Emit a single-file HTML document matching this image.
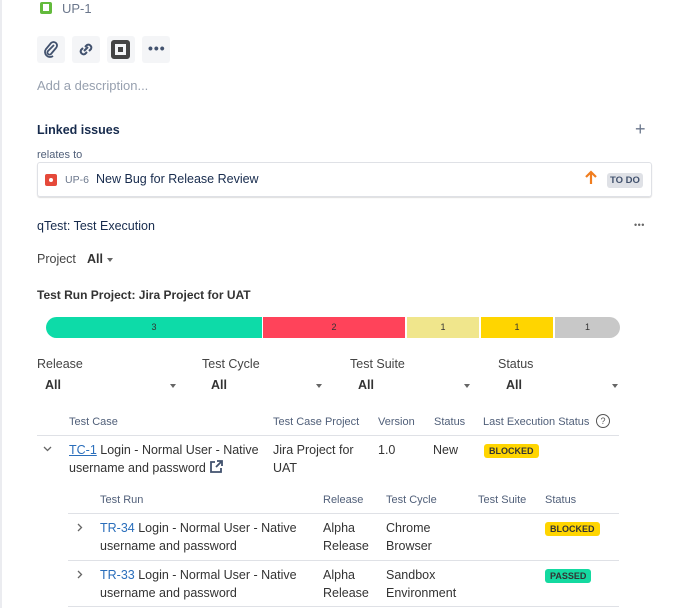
<!DOCTYPE html>
<html><head><meta charset="utf-8"><style>
*{margin:0;padding:0;box-sizing:border-box}
body{width:679px;height:608px;background:#fff;position:relative;overflow:hidden;font-family:"Liberation Sans",Arial,sans-serif;color:#172b4d}
.a{position:absolute;white-space:nowrap}
.btn{position:absolute;top:36px;width:28px;height:27px;background:#f4f5f7;border-radius:3px}
.lnk{color:#2a6ebb}
.hd{font-size:11px;color:#505f79}
.lz{font-size:12.5px;color:#333;line-height:18px}
.badge{position:absolute;font-size:9px;font-weight:bold;padding:2px 5px;border-radius:3px;color:#333}
.hr{position:absolute;height:1px;background:#dfe1e6}
.dd{font-size:12.5px;font-weight:bold;color:#333}
.arr{position:absolute;width:0;height:0;border-left:3.5px solid transparent;border-right:3.5px solid transparent;border-top:4px solid #666}
</style></head><body>
<div class="a" style="left:0;top:0;width:2px;height:608px;background:#ebecf0"></div>
<div class="a" style="left:40px;top:2px;width:12px;height:12px;background:#63ba3c;border-radius:2px"><div style="position:absolute;left:3px;top:2px;width:6px;height:7px;background:#fff"></div></div>
<div class="a" style="left:62px;top:1px;font-size:13px;color:#6b778c">UP-1</div>
<div class="btn" style="left:37px"><svg width="28" height="27"><path d="M17 9 L11 15 a2 2 0 0 0 3 3 L19 12 a3.5 3.5 0 0 0 -5 -5 L9 13 a5 5 0 0 0 7 7" fill="none" stroke="#42526e" stroke-width="1.8"/></svg></div>
<div class="btn" style="left:72px"><svg width="28" height="27"><g fill="none" stroke="#42526e" stroke-width="2"><path d="M13 11 l2 -2 a3 3 0 0 1 4 4 l-2 2"/><path d="M15 16 l-2 2 a3 3 0 0 1 -4 -4 l2 -2"/><path d="M12 15 l4 -4"/></g></svg></div>
<div class="btn" style="left:107px"><div style="position:absolute;left:4px;top:4px;width:19px;height:19px;border:4px solid #444;border-radius:3px"><div style="position:absolute;left:3px;top:3px;width:5px;height:5px;background:#444"></div></div></div>
<div class="btn" style="left:142px"><div class="a" style="left:6px;top:4px;font-size:14px;font-weight:bold;color:#42526e;letter-spacing:1px">•••</div></div>
<div class="a" style="left:37px;top:78px;font-size:13px;color:#97a0af">Add a description...</div>
<div class="a" style="left:37px;top:123px;font-size:12.5px;font-weight:bold">Linked issues</div>
<div class="a" style="left:635px;top:119px;font-size:18px;color:#6b778c">+</div>
<div class="a" style="left:37px;top:149px;font-size:11px;color:#505f79">relates to</div>
<div class="a" style="left:37px;top:162px;width:615px;height:35px;border:1px solid #dfe1e6;border-radius:3px;box-shadow:0 1px 1px #ddd"></div>
<div class="a" style="left:45px;top:174px;width:12px;height:12px;background:#e5493a;border-radius:2px"><div style="position:absolute;left:4px;top:4px;width:4px;height:4px;background:#fff;border-radius:2px"></div></div>
<div class="a" style="left:65px;top:174px;font-size:10.5px;color:#6b778c">UP-6</div>
<div class="a" style="left:96px;top:172px;font-size:12.5px">New Bug for Release Review</div>
<svg class="a" style="left:585px;top:170px" width="12" height="15"><path d="M6 14V2M1 7l5-5 5 5" fill="none" stroke="#f07d1f" stroke-width="2.2"/></svg>
<div class="a" style="left:607px;top:173px;font-size:9.5px;font-weight:bold;background:#dfe1e6;color:#42526e;padding:2px 3px;border-radius:3px">TO DO</div>
<div class="a" style="left:37px;top:219px;font-size:12.5px">qTest: Test Execution</div>
<div class="a" style="left:634px;top:220px;font-size:9px;color:#666;letter-spacing:0.5px">•••</div>
<div class="a" style="left:37px;top:252px;font-size:12.5px;color:#444">Project</div>
<div class="a dd" style="left:87px;top:252px">All</div><div class="arr" style="left:107px;top:258px"></div>
<div class="a" style="left:37px;top:288px;font-size:12px;font-weight:bold;color:#333">Test Run Project: Jira Project for UAT</div>
<div class="a" style="left:46px;top:317px;width:574px;height:21px;border-radius:11px;overflow:hidden;font-size:9px;color:#333;line-height:21px;text-align:center">
<div class="a" style="left:0;width:216px;height:21px;background:#0ddba8">3</div>
<div class="a" style="left:217px;width:142px;height:21px;background:#ff435a">2</div>
<div class="a" style="left:361px;width:72px;height:21px;background:#f0e68c">1</div>
<div class="a" style="left:435px;width:72px;height:21px;background:#ffd500">1</div>
<div class="a" style="left:509px;width:65px;height:21px;background:#c8c8c8">1</div>
</div>
<div class="a" style="left:37px;top:357px;font-size:12.5px;color:#444">Release</div>
<div class="a" style="left:202px;top:357px;font-size:12.5px;color:#444">Test Cycle</div>
<div class="a" style="left:350px;top:357px;font-size:12.5px;color:#444">Test Suite</div>
<div class="a" style="left:498px;top:357px;font-size:12.5px;color:#444">Status</div>
<div class="a dd" style="left:45px;top:378px">All</div><div class="arr" style="left:170px;top:384px"></div>
<div class="a dd" style="left:211px;top:378px">All</div><div class="arr" style="left:316px;top:384px"></div>
<div class="a dd" style="left:358px;top:378px">All</div><div class="arr" style="left:464px;top:384px"></div>
<div class="a dd" style="left:506px;top:378px">All</div><div class="arr" style="left:612px;top:384px"></div>
<div class="a hd" style="left:69px;top:416px">Test Case</div>
<div class="a hd" style="left:273px;top:416px">Test Case Project</div>
<div class="a hd" style="left:378px;top:416px">Version</div>
<div class="a hd" style="left:434px;top:416px">Status</div>
<div class="a hd" style="left:483px;top:416px">Last Execution Status</div>
<div class="a" style="left:596px;top:414px;width:14px;height:14px;border:1.3px solid #555;border-radius:7px;font-size:9px;text-align:center;line-height:12px;color:#555">?</div>
<div class="hr" style="left:37px;top:435px;width:582px"></div>
<svg class="a" style="left:43px;top:446px" width="9" height="6"><path d="M1 1l3.5 3.5L8 1" fill="none" stroke="#666" stroke-width="1.3"/></svg>
<div class="a lz" style="left:69px;top:441px"><span class="lnk" style="text-decoration:underline">TC-1</span> Login - Normal User - Native<br>username and password</div>
<svg class="a" style="left:209px;top:460px" width="14" height="14"><path d="M6 2H2v10h10V8" fill="none" stroke="#42526e" stroke-width="1.8"/><path d="M8 1h5v5M13 1 7 7" fill="none" stroke="#42526e" stroke-width="1.8"/></svg>
<div class="a lz" style="left:273px;top:441px">Jira Project for<br>UAT</div>
<div class="a lz" style="left:378px;top:441px">1.0</div>
<div class="a lz" style="left:433px;top:441px">New</div>
<div class="badge" style="left:484px;top:444px;background:#ffd500">BLOCKED</div>
<div class="a hd" style="left:100px;top:494px">Test Run</div>
<div class="a hd" style="left:323px;top:494px">Release</div>
<div class="a hd" style="left:386px;top:494px">Test Cycle</div>
<div class="a hd" style="left:478px;top:494px">Test Suite</div>
<div class="a hd" style="left:545px;top:494px">Status</div>
<div class="hr" style="left:68px;top:513px;width:551px"></div>
<svg class="a" style="left:77px;top:523px" width="6" height="9"><path d="M1 1l3.5 3.5L1 8" fill="none" stroke="#666" stroke-width="1.3"/></svg>
<div class="a lz" style="left:100px;top:519px"><span class="lnk">TR-34</span> Login - Normal User - Native<br>username and password</div>
<div class="a lz lnk" style="left:323px;top:519px">Alpha<br>Release</div>
<div class="a lz lnk" style="left:386px;top:519px">Chrome<br>Browser</div>
<div class="badge" style="left:545px;top:522px;background:#ffd500">BLOCKED</div>
<div class="hr" style="left:68px;top:560px;width:551px"></div>
<svg class="a" style="left:77px;top:570px" width="6" height="9"><path d="M1 1l3.5 3.5L1 8" fill="none" stroke="#666" stroke-width="1.3"/></svg>
<div class="a lz" style="left:100px;top:566px"><span class="lnk">TR-33</span> Login - Normal User - Native<br>username and password</div>
<div class="a lz lnk" style="left:323px;top:566px">Alpha<br>Release</div>
<div class="a lz lnk" style="left:386px;top:566px">Sandbox<br>Environment</div>
<div class="badge" style="left:545px;top:569px;background:#14d9a0">PASSED</div>
<div class="hr" style="left:68px;top:606px;width:551px"></div>
</body></html>
